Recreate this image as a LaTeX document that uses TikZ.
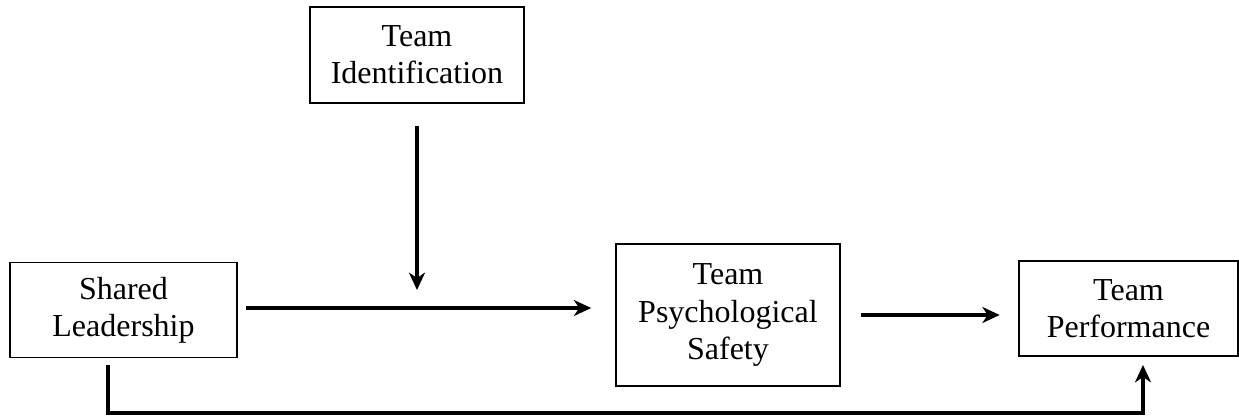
\documentclass[tikz,border=0pt]{standalone}
\usepackage{fontspec}
\setmainfont{Liberation Serif}
\usetikzlibrary{arrows.meta}

\begin{document}
\begin{tikzpicture}[x=0.75pt,y=0.75pt,yscale=-1,xscale=1,
    box/.style={draw, line width=1.2pt, align=center, inner sep=0pt,
        font=\fontsize{24pt}{28pt}\selectfont},
    link/.style={line width=2.3pt, -{Stealth[length=13pt,width=12pt,inset=4pt]}}]
\useasboundingbox (0,0) rectangle (1239,415);
\node [box, minimum width=170.25pt, minimum height=71pt] (shared) at (123.5,310) {Shared\\Leadership};
\node [box, minimum width=160.5pt, minimum height=72pt] (ident) at (417,55) {Team\\Identification};
\node [box, minimum width=168pt, minimum height=106.5pt] (safety) at (728,315) {Team\\Psychological\\Safety};
\node [box, minimum width=164pt, minimum height=71pt] (perf) at (1128.5,308.5) {Team\\Performance};
\coordinate (modend) at (417,290);
\coordinate (loopL) at (108,365);
\coordinate (loopR) at (1143,365);
\draw [link, shorten <=16.5pt] (ident.south) -- (modend);
\draw [link, shorten <=6pt, shorten >=18pt] ([yshift=-1.5pt]shared.east) -- ([yshift=-1.5pt]shared.east -| safety.west);
\draw [link, shorten <=15pt, shorten >=14pt] (safety.east) -- (safety.east -| perf.west);
\draw [link] (loopL) -- ++(0,48) -| (loopR);
\end{tikzpicture}
\end{document}
